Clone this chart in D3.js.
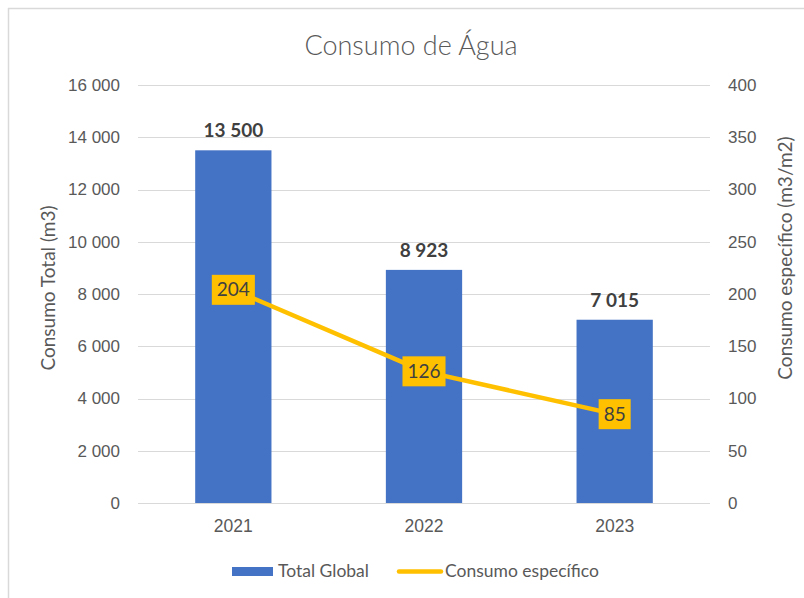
<!DOCTYPE html>
<html>
<head>
<meta charset="utf-8">
<script src="https://cdn.jsdelivr.net/npm/d3@7"></script>
<style>
  body { margin: 0; background: #fff; }
  svg { display: block; font-family: Lato, "Open Sans", sans-serif; }
</style>
</head>
<body>
<svg id="chart" width="804" height="598"></svg>
<script>
const categories = ["2021", "2022", "2023"];
const totalGlobal = [13500, 8923, 7015];
const consumoEspecifico = [204, 126, 85];
const leftTicks = [0, 2000, 4000, 6000, 8000, 10000, 12000, 14000, 16000];
const rightTicks = [0, 50, 100, 150, 200, 250, 300, 350, 400];
const seriesNames = ["Total Global", "Consumo específico"];

const svg = d3.select("#chart");
const W = 804, H = 598;
const m = { left: 138, right: 710, top: 85, bottom: 503 };
const blue = "#4472C4", gold = "#FFC000", txt = "#595959", dark = "#404040";

const fmt = v => d3.format(",")(v).replace(/,/g, " ");

// border
svg.append("rect").attr("x", 8.5).attr("y", 8.5).attr("width", W).attr("height", H)
  .attr("fill", "none").attr("stroke", "#D9D9D9").attr("stroke-width", 1.5);

const x = d3.scaleBand().domain(categories).range([m.left, m.right])
  .paddingInner(0.6).paddingOuter(0.3);
const y = d3.scaleLinear().domain([0, 16000]).range([m.bottom, m.top]);
const y2 = d3.scaleLinear().domain([0, 400]).range([m.bottom, m.top]);

// gridlines
svg.append("g").selectAll("line").data(leftTicks).join("line")
  .attr("x1", m.left).attr("x2", m.right)
  .attr("y1", d => Math.round(y(d)) + 0.5).attr("y2", d => Math.round(y(d)) + 0.5)
  .attr("stroke", "#D9D9D9").attr("stroke-width", 1);

// left axis
const la = svg.append("g").attr("transform", `translate(${m.left - 18},0)`)
  .call(d3.axisLeft(y).tickValues(leftTicks).tickFormat(fmt).tickSize(0).tickPadding(0));
la.select(".domain").remove();
la.selectAll("text").attr("fill", txt).style("font-size", "17px");

// right axis
const ra = svg.append("g").attr("transform", `translate(${m.right + 18},0)`)
  .call(d3.axisRight(y2).tickValues(rightTicks).tickSize(0).tickPadding(0));
ra.select(".domain").remove();
ra.selectAll("text").attr("fill", txt).style("font-size", "17px");

// x axis labels
const xa = svg.append("g").attr("transform", `translate(0,${m.bottom + 17})`)
  .call(d3.axisBottom(x).tickSize(0).tickPadding(0));
xa.select(".domain").remove();
xa.selectAll("text").attr("fill", txt).style("font-size", "17.5px");

// bars
svg.append("g").selectAll("rect").data(categories).join("rect")
  .attr("x", d => x(d)).attr("width", x.bandwidth())
  .attr("y", (d, i) => y(totalGlobal[i]))
  .attr("height", (d, i) => y(0) - y(totalGlobal[i]))
  .attr("fill", blue);

// bar labels
svg.append("g").selectAll("text").data(categories).join("text")
  .attr("x", d => x(d) + x.bandwidth() / 2)
  .attr("y", (d, i) => y(totalGlobal[i]) - 13)
  .attr("text-anchor", "middle").attr("fill", dark)
  .style("font-size", "19px").style("font-weight", "bold")
  .text((d, i) => fmt(totalGlobal[i]));

// baseline
svg.append("line").attr("x1", m.left).attr("x2", m.right)
  .attr("y1", Math.round(y(0)) + 0.5).attr("y2", Math.round(y(0)) + 0.5)
  .attr("stroke", "#D9D9D9").attr("stroke-width", 1.2);

// line
const pts = categories.map((c, i) => [x(c) + x.bandwidth() / 2, y2(consumoEspecifico[i])]);
svg.append("path").attr("d", d3.line()(pts))
  .attr("fill", "none").attr("stroke", gold).attr("stroke-width", 4.5)
  .attr("stroke-linejoin", "round");

// line labels
const lg = svg.append("g").selectAll("g").data(pts).join("g")
  .attr("transform", d => `translate(${d[0]},${d[1]})`);
const lbRect = lg.append("rect").attr("y", -15).attr("height", 30).attr("fill", gold);
const lbText = lg.append("text").attr("text-anchor", "middle").attr("dy", "0.35em")
  .attr("fill", dark).style("font-size", "19px")
  .text((d, i) => consumoEspecifico[i]);
lbText.each(function (d, i) {
  const w = this.getComputedTextLength() + 10;
  d3.select(lbRect.nodes()[i]).attr("x", -w / 2).attr("width", w);
});

// title
svg.append("text").attr("x", 411).attr("y", 55).attr("text-anchor", "middle")
  .attr("fill", txt).style("font-size", "27px").style("font-weight", 300)
  .text("Consumo de Água");

// axis titles
svg.append("text").attr("transform", `translate(55,288) rotate(-90)`)
  .attr("text-anchor", "middle").attr("fill", txt).style("font-size", "19px")
  .text("Consumo Total (m3)");
svg.append("text").attr("transform", `translate(792,258) rotate(-90)`)
  .attr("text-anchor", "middle").attr("fill", txt).style("font-size", "19px")
  .text("Consumo específico (m3/m2)");

// legend
const leg = svg.append("g");
leg.append("rect").attr("x", 232).attr("y", 567).attr("width", 41).attr("height", 9).attr("fill", blue);
leg.append("text").attr("x", 278).attr("y", 571).attr("dy", "0.35em").attr("fill", txt)
  .style("font-size", "17.5px").text(seriesNames[0]);
leg.append("line").attr("x1", 399).attr("x2", 441).attr("y1", 571.5).attr("y2", 571.5)
  .attr("stroke", gold).attr("stroke-width", 4.5).attr("stroke-linecap", "round");
leg.append("text").attr("x", 445).attr("y", 571).attr("dy", "0.35em").attr("fill", txt)
  .style("font-size", "17.5px").text(seriesNames[1]);
</script>
</body>
</html>
